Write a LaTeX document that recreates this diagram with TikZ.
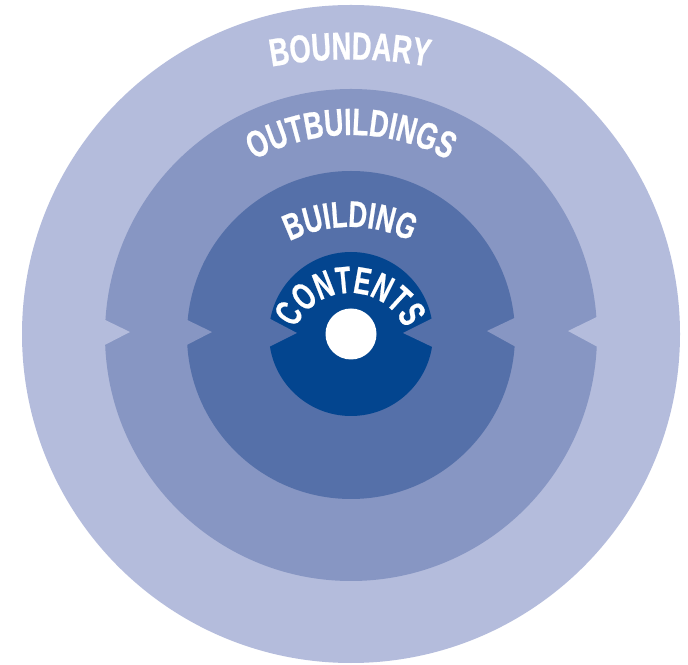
\documentclass[tikz,border=0pt]{standalone}
\usepackage{fontspec}
\usetikzlibrary{decorations.text}
\newfontfamily\labfont{Liberation Sans}[FakeStretch=0.7,BoldFeatures={FakeBold=0.6}]
\newfontfamily\corefont{Liberation Sans}[FakeStretch=0.66,BoldFeatures={FakeBold=0.6}]
\definecolor{ringA}{HTML}{B4BCDC}
\definecolor{ringB}{HTML}{8796C3}
\definecolor{ringC}{HTML}{5570A9}
\definecolor{ringD}{HTML}{03458F}
\tikzset{
  disc/.style={fill=#1,draw=none},
  arclabel/.style n args={3}{decorate,decoration={text along path,text align=center,
    text color=white,text={|#1\bfseries\fontsize{#2}{#2}\selectfont|#3}}}
}
\begin{document}
\begin{tikzpicture}[x=1pt,y=1pt]
\useasboundingbox (0,0) rectangle (688,664);
\fill[white] (0,0) rectangle (688,664);
% boundary
\fill[disc=ringA] (351,330) circle[radius=329];
% outbuildings
\fill[disc=ringB] (351,329) circle[radius=246];
\fill[disc=ringA] (95,349) -- (130,332) -- (95,314) -- cycle;
\fill[disc=ringA] (607,352) -- (568,333) -- (607,312) -- cycle;
% building
\fill[disc=ringC] (351,329) circle[radius=164];
\fill[disc=ringB] (177,349) -- (212,332) -- (177,314) -- cycle;
\fill[disc=ringB] (525,351) -- (487,333) -- (525,312) -- cycle;
% contents
\fill[disc=ringD] (351,330) circle[radius=82];
\fill[disc=ringC] (259,351) -- (297,331) -- (259,312) -- cycle;
\fill[disc=ringC] (443,351) -- (403,331) -- (443,312) -- cycle;
% hole
\fill[white] (351,330) circle[radius=25.5];
% labels
\path[arclabel={\labfont}{39}{BOUNDARY}] (350,174.5) ++(110:430) arc[start angle=110,end angle=70,radius=430];
\path[arclabel={\labfont}{38}{OUTBUILDINGS}] (351,329) ++(140:200) arc[start angle=140,end angle=40,radius=200];
\path[arclabel={\labfont}{37}{BUILDING}] (350,303) ++(150:134) arc[start angle=150,end angle=30,radius=134];
\path[arclabel={\corefont}{38}{CONTENTS}] (350,311) ++(200:60) arc[start angle=200,end angle=-20,radius=60];
\end{tikzpicture}
\end{document}
